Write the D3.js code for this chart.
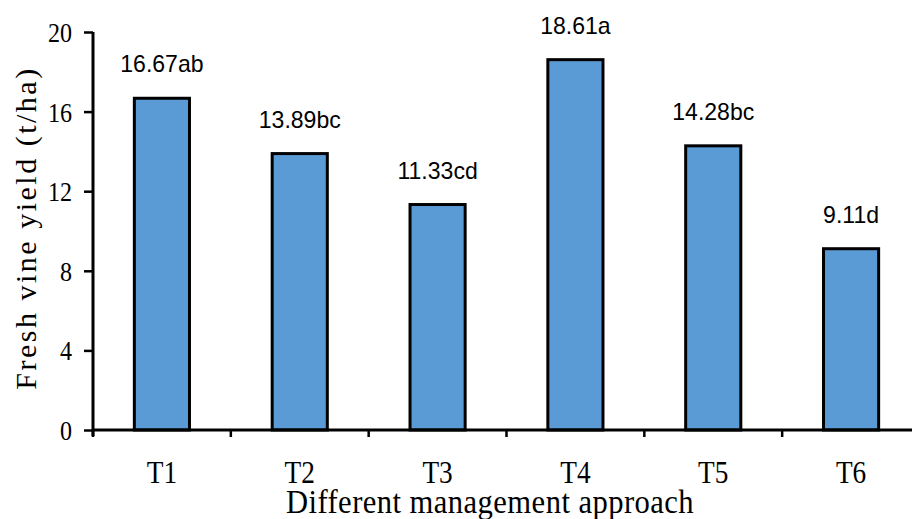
<!DOCTYPE html>
<html>
<head>
<meta charset="utf-8">
<script src="https://cdn.jsdelivr.net/npm/d3@7"></script>
<style>
  body { margin: 0; background: #fff; }
  svg { display: block; }
</style>
</head>
<body>
<script>
// data
let treatments = ["T1", "T2", "T3", "T4", "T5", "T6"];
let yields = [16.67, 13.89, 11.33, 18.61, 14.28, 9.11];
let letters = ["ab", "bc", "cd", "a", "bc", "d"];
let yTicks = [0, 4, 8, 12, 16, 20];

let W = 912, H = 519;
let plotLeft = 93, plotBottom = 430, plotTop = 32;

let svg = d3.select("body").append("svg")
    .attr("width", W)
    .attr("height", H);

let y = d3.scaleLinear().domain([0, 20]).range([plotBottom, plotTop]);
let x = d3.scaleBand()
    .domain(treatments)
    .range([plotLeft, 920])
    .paddingInner(0.6)
    .paddingOuter(0.3);

// bars
svg.selectAll("rect.bar")
    .data(yields)
    .enter()
    .append("rect")
    .attr("class", "bar")
    .attr("x", (d, i) => x(treatments[i]))
    .attr("y", d => y(d))
    .attr("width", x.bandwidth())
    .attr("height", d => y(0) - y(d))
    .attr("fill", "#5b9bd5")
    .attr("stroke", "#000")
    .attr("stroke-width", 3);

// value labels
svg.selectAll("text.val")
    .data(yields)
    .enter()
    .append("text")
    .attr("class", "val")
    .attr("transform", (d, i) =>
        "translate(" + (x(treatments[i]) + x.bandwidth() / 2) + "," + (y(d) - 26) + ") scale(0.96,1)")
    .attr("text-anchor", "middle")
    .attr("font-family", "Liberation Sans, Arial, sans-serif")
    .attr("font-size", 24)
    .attr("fill", "#000")
    .text((d, i) => d.toFixed(2) + letters[i]);

// y axis
let yAxis = svg.append("g")
    .attr("transform", "translate(" + plotLeft + ",0)")
    .call(d3.axisLeft(y).tickValues(yTicks).tickSize(9).tickSizeOuter(0));
yAxis.select(".domain").remove();
yAxis.selectAll(".tick line").attr("stroke", "#000").attr("stroke-width", 2.5);
yAxis.selectAll(".tick text")
    .attr("x", null)
    .attr("dy", "0.34em")
    .attr("transform", "translate(-21,0) scale(0.86,1)")
    .attr("font-family", "Liberation Serif, Times New Roman, serif")
    .attr("font-size", 28)
    .attr("fill", "#000");
svg.append("line")
    .attr("x1", plotLeft).attr("x2", plotLeft)
    .attr("y1", plotTop).attr("y2", plotBottom + 6)
    .attr("stroke", "#000").attr("stroke-width", 3);

// x axis
let xAxis = svg.append("g")
    .attr("transform", "translate(0," + plotBottom + ")")
    .call(d3.axisBottom(x).tickSize(0).tickSizeOuter(0));
xAxis.select(".domain").remove();
xAxis.selectAll(".tick text")
    .attr("y", null)
    .attr("dy", null)
    .attr("transform", "translate(0,53) scale(0.88,1)")
    .attr("font-family", "Liberation Serif, Times New Roman, serif")
    .attr("font-size", 31)
    .attr("fill", "#000");
svg.append("line")
    .attr("x1", plotLeft).attr("x2", W)
    .attr("y1", plotBottom).attr("y2", plotBottom)
    .attr("stroke", "#000").attr("stroke-width", 3);

// category boundary ticks
svg.selectAll("line.sep")
    .data(d3.range(treatments.length))
    .enter()
    .append("line")
    .attr("class", "sep")
    .attr("x1", i => plotLeft + i * x.step())
    .attr("x2", i => plotLeft + i * x.step())
    .attr("y1", plotBottom)
    .attr("y2", plotBottom + 7)
    .attr("stroke", "#000")
    .attr("stroke-width", 2.5);

// axis titles
svg.append("text")
    .attr("transform", "translate(490,513) scale(0.9,1)")
    .attr("text-anchor", "middle")
    .attr("font-family", "Liberation Serif, Times New Roman, serif")
    .attr("font-size", 34)
    .attr("letter-spacing", 0.5)
    .attr("fill", "#000")
    .text("Different management approach");

svg.append("text")
    .attr("transform", "translate(36,228) rotate(-90)")
    .attr("text-anchor", "middle")
    .attr("font-family", "Liberation Serif, Times New Roman, serif")
    .attr("font-size", 30)
    .attr("letter-spacing", 2.5)
    .attr("fill", "#000")
    .text("Fresh vine yield (t/ha)");
</script>
</body>
</html>
